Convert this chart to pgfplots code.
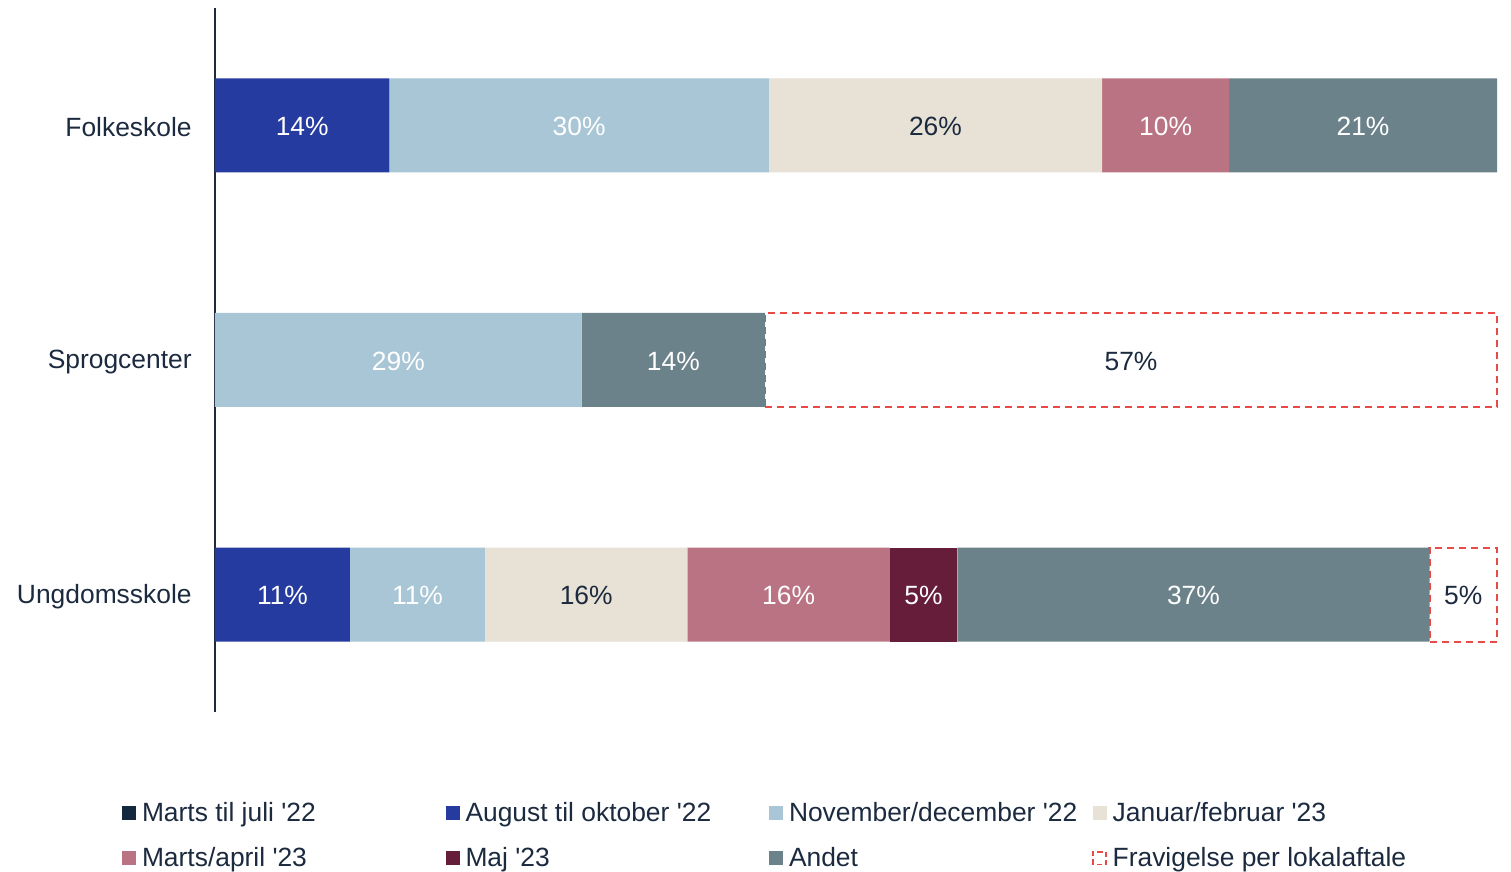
\documentclass[border=0pt]{standalone}
\usepackage{fontspec}
\setmainfont{Liberation Sans}
\usepackage{pgfplots}
\pgfplotsset{compat=1.18}
\definecolor{txt}{HTML}{1B2A3E}
\definecolor{cMarts}{HTML}{14293D}
\definecolor{cAug}{HTML}{253B9F}
\definecolor{cNov}{HTML}{A8C6D6}
\definecolor{cJan}{HTML}{E7E1D6}
\definecolor{cMA}{HTML}{BA7382}
\definecolor{cMaj}{HTML}{651D3A}
\definecolor{cAndet}{HTML}{6B828A}
\definecolor{cFrav}{HTML}{E84A45}
\newcommand{\lf}{\fontsize{13.2}{16}\selectfont}
\newcommand{\lgE}[1]{\makebox[148.75pt][l]{#1}}
\newcommand{\q}{\textquotesingle}
\begin{document}
\begin{tikzpicture}
\useasboundingbox (0,0) rectangle (755.5pt,436pt);
\begin{axis}[
  at={(107.5pt,80pt)}, anchor=south west,
  scale only axis, width=641pt, height=352pt,
  xbar stacked, bar width=47pt,
  xmin=0, xmax=100, ymin=-0.5, ymax=2.5,
  axis x line=none, axis y line=left,
  axis line style={-, draw=txt, line width=0.6pt},
  ytick={0,1,2}, yticklabels={Ungdomsskole,Sprogcenter,Folkeskole},
  major tick length=0pt,
  yticklabel style={font=\lf, text=txt, inner xsep=0pt, xshift=-11.5pt, yshift=-1pt},
  clip=false,
  /pgf/number format/assume math mode=true,
  visualization depends on={rawx \as \myx},
  nodes near coords={\ifdim\myx pt>0.1pt \pgfmathprintnumber[fixed,precision=0,assume math mode=true]{\myx}\%\fi},
  every node near coord/.append style={anchor=center, yshift=-0.5pt, font=\lf, text=white},
  every axis plot/.append style={draw=none,
     legend image code/.code={\fill[##1] (0pt,-2.5pt) rectangle (7pt,4.5pt);}},
  legend columns=4, legend cell align=left,
  legend style={at={(-0.07254,-0.1146)}, anchor=north west, draw=none, fill=none,
     inner sep=0pt, outer sep=0pt, column sep=0pt, row sep=0pt,
     font=\lf, text=txt,
     nodes={inner xsep=3pt, inner ysep=5.15pt, text height=9.5pt, text depth=2.7pt}},
]
\addlegendimage{legend image code/.code={\fill[cMarts] (0pt,-2.5pt) rectangle (7pt,4.5pt);}}
\addlegendentry{\lgE{Marts til juli \q22}}
\addplot[fill=cAug] coordinates {(10.53,0) (0,1) (13.6,2)};
\addlegendentry{\lgE{August til oktober \q22}}
\addplot[fill=cNov] coordinates {(10.53,0) (28.6,1) (29.6,2)};
\addlegendentry{\lgE{November/december \q22}}
\addplot[fill=cJan, every node near coord/.append style={text=txt}] coordinates {(15.79,0) (0,1) (26.0,2)};
\addlegendentry{\lgE{Januar/februar \q23}}
\addplot[fill=cMA] coordinates {(15.79,0) (0,1) (9.9,2)};
\addlegendentry{\lgE{Marts/april \q23}}
\addplot[fill=cMaj] coordinates {(5.26,0) (0,1) (0,2)};
\addlegendentry{\lgE{Maj \q23}}
\addplot[fill=cAndet] coordinates {(36.84,0) (14.3,1) (20.9,2)};
\addlegendentry{\lgE{Andet}}
\addplot[fill=none, draw=cFrav, line width=1.1pt, dash pattern=on 3.5pt off 2.5pt,
   every node near coord/.append style={text=txt},
   legend image code/.code={\draw[cFrav, line width=0.9pt, dash pattern=on 2.6pt off 1.6pt] (0.4pt,-2.2pt) rectangle (6.6pt,4.2pt);}]
   coordinates {(5.26,0) (57.1,1)};
\addlegendentry{\lgE{Fravigelse per lokalaftale}}
\end{axis}
\end{tikzpicture}
\end{document}
